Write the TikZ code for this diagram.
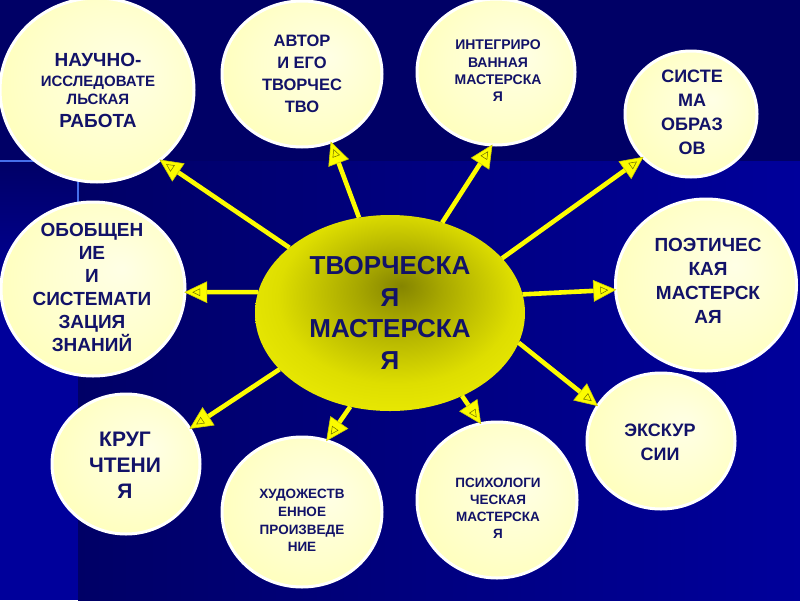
\documentclass[tikz,border=0pt]{standalone}
\usepackage{fontspec}
\setmainfont{Liberation Sans}
\usetikzlibrary{shapes.geometric,decorations.markings}
\definecolor{bgdark}{RGB}{0,0,102}
\definecolor{bgbright}{RGB}{0,0,155}
\definecolor{bgline}{RGB}{70,110,235}
\definecolor{navytext}{RGB}{18,18,104}
\definecolor{arrowyellow}{RGB}{252,252,0}
\definecolor{headedge}{RGB}{205,205,0}
\definecolor{headmark}{RGB}{110,110,0}
\pgfdeclareradialshading{bubshade}{\pgfpoint{8bp}{6bp}}{rgb(0bp)=(1,1,0.9); rgb(20bp)=(1,1,0.8); rgb(40bp)=(1,1,0.68); rgb(50bp)=(1,1,0.6)}
\pgfdeclareradialshading{hubshade}{\pgfpoint{2bp}{7bp}}{rgb(0bp)=(0.52,0.52,0); rgb(8bp)=(0.66,0.66,0); rgb(22bp)=(0.87,0.87,0); rgb(34bp)=(0.94,0.94,0.02); rgb(50bp)=(0.95,0.95,0.05)}
\newcommand\arrowheadmark{%
  \filldraw[fill=arrowyellow, draw=headedge, line width=0.6pt, shorten >=0pt, shorten <=0pt, line join=miter] (0pt,0pt) -- (-22pt,10.5pt) -- (-22pt,-10.5pt) -- cycle;
  \draw[draw=headmark, line width=0.5pt, shorten >=0pt, shorten <=0pt] (-8pt,0pt) -- (-15pt,3.5pt) -- (-15pt,-3.5pt) -- cycle;}
\begin{document}
\begin{tikzpicture}[x=1pt,y=-1pt,
  bubble/.style={ellipse, draw=white, line width=3pt, shade, shading=bubshade, inner sep=0pt, outer sep=0pt},
  bsize/.style 2 args={minimum width=#1, minimum height=#2},
  hubshape/.style={ellipse, shade, shading=hubshade, inner sep=0pt, outer sep=0pt},
  txt/.style={text=navytext, align=center, inner sep=0pt},
  link/.style={draw=arrowyellow, line width=4.6pt, shorten >=14pt, postaction={decorate},
    decoration={markings, mark=at position 1 with {\arrowheadmark}}}]
\useasboundingbox (0,0) rectangle (800,600);
% background
\fill[bgdark] (0,0) rectangle (800,600);
\shade[left color=bgdark, right color=bgbright] (78,161) rectangle (800,600);
\shade[top color=bgdark, bottom color=bgbright] (0,161) rectangle (78,300);
\fill[bgbright] (0,300) rectangle (78,600);
\draw[bgline, line width=1.5pt] (0,161) -- (60,161);
\draw[bgline, line width=1.5pt] (78,161) -- (78,210);
% bubbles
\node[bubble, bsize={194pt}{184pt}] (nauch) at (97,90) {};
\node[bubble, bsize={160pt}{146pt}] (avtor) at (302,74) {};
\node[bubble, bsize={158pt}{146pt}] (integ) at (496,72) {};
\node[bubble, bsize={132pt}{126pt}] (sistema) at (691,114) {};
\node[bubble, bsize={181pt}{172pt}] (poet) at (706,285) {};
\node[bubble, bsize={148pt}{136pt}] (ekskur) at (661,441) {};
\node[bubble, bsize={160pt}{156pt}] (psych) at (497,500) {};
\node[bubble, bsize={160pt}{150pt}] (khud) at (302,512) {};
\node[bubble, bsize={148pt}{140pt}] (krug) at (126,464) {};
\node[bubble, bsize={184pt}{174pt}] (obob) at (93,289) {};
\node[hubshape, bsize={270pt}{196pt}] (hub) at (390,313) {};
% arrows
\draw[link] (hub.147.4) -- (nauch.-48.3);
\draw[link] (hub.108.3) -- (avtor.-67.1);
\draw[link] (hub.60.8) -- (integ.-93.2);
\draw[link] (hub.26) -- (sistema.-138.1);
\draw[link] (hub.8) -- (poet.-177.5);
\draw[link] (hub.-13.6) -- (ekskur.151.9);
\draw[link] (hub.-49.1) -- (psych.102.2);
\draw[link] (hub.-113.5) -- (khud.71.6);
\draw[link] (hub.-153.8) -- (krug.29.6);
\draw[link] (hub.171.5) -- (obob.-2.5);
% texts
\node[txt, font=\bfseries\fontsize{15}{18}\selectfont] (nauch-t) at (98,90.6)
  {{\fontsize{19}{18}\selectfont НАУЧНО-}\\[2pt] ИССЛЕДОВАТЕ\\ ЛЬСКАЯ\\[5pt] {\fontsize{19}{18}\selectfont РАБОТА}};
\node[txt, font=\bfseries\fontsize{16.5}{22}\selectfont] (avtor-t) at (302,74)
  {АВТОР\\ И ЕГО\\ ТВОРЧЕС\\ ТВО};
\node[txt, font=\bfseries\fontsize{14}{17.3}\selectfont] (integ-t) at (498,71)
  {ИНТЕГРИРО\\ ВАННАЯ\\ МАСТЕРСКА\\ Я};
\node[txt, font=\bfseries\fontsize{18}{24}\selectfont] (sistema-t) at (692,112.4)
  {СИСТЕ\\ МА\\ ОБРАЗ\\ ОВ};
\node[txt, font=\bfseries\fontsize{19}{24}\selectfont] (poet-t) at (708,281)
  {ПОЭТИЧЕС\\ КАЯ\\ МАСТЕРСК\\ АЯ};
\node[txt, font=\bfseries\fontsize{18}{24}\selectfont] (ekskur-t) at (660,442.5)
  {ЭКСКУР\\ СИИ};
\node[txt, font=\bfseries\fontsize{13.5}{17}\selectfont] (psych-t) at (498,508.6)
  {ПСИХОЛОГИ\\ ЧЕСКАЯ\\ МАСТЕРСКА\\ Я};
\node[txt, font=\bfseries\fontsize{13.5}{17.7}\selectfont] (khud-t) at (302,520.6)
  {ХУДОЖЕСТВ\\ ЕННОЕ\\ ПРОИЗВЕДЕ\\ НИЕ};
\node[txt, font=\bfseries\fontsize{21}{26}\selectfont] (krug-t) at (125,465.4)
  {КРУГ\\ ЧТЕНИ\\ Я};
\node[txt, font=\bfseries\fontsize{19}{23}\selectfont] (obob-t) at (92,287.6)
  {ОБОБЩЕН\\ ИЕ\\ И\\ СИСТЕМАТИ\\ ЗАЦИЯ\\ ЗНАНИЙ};
\node[txt, font=\bfseries\fontsize{26}{31.7}\selectfont] (hub-t) at (390,313)
  {ТВОРЧЕСКА\\ Я\\ МАСТЕРСКА\\ Я};
\end{tikzpicture}
\end{document}
